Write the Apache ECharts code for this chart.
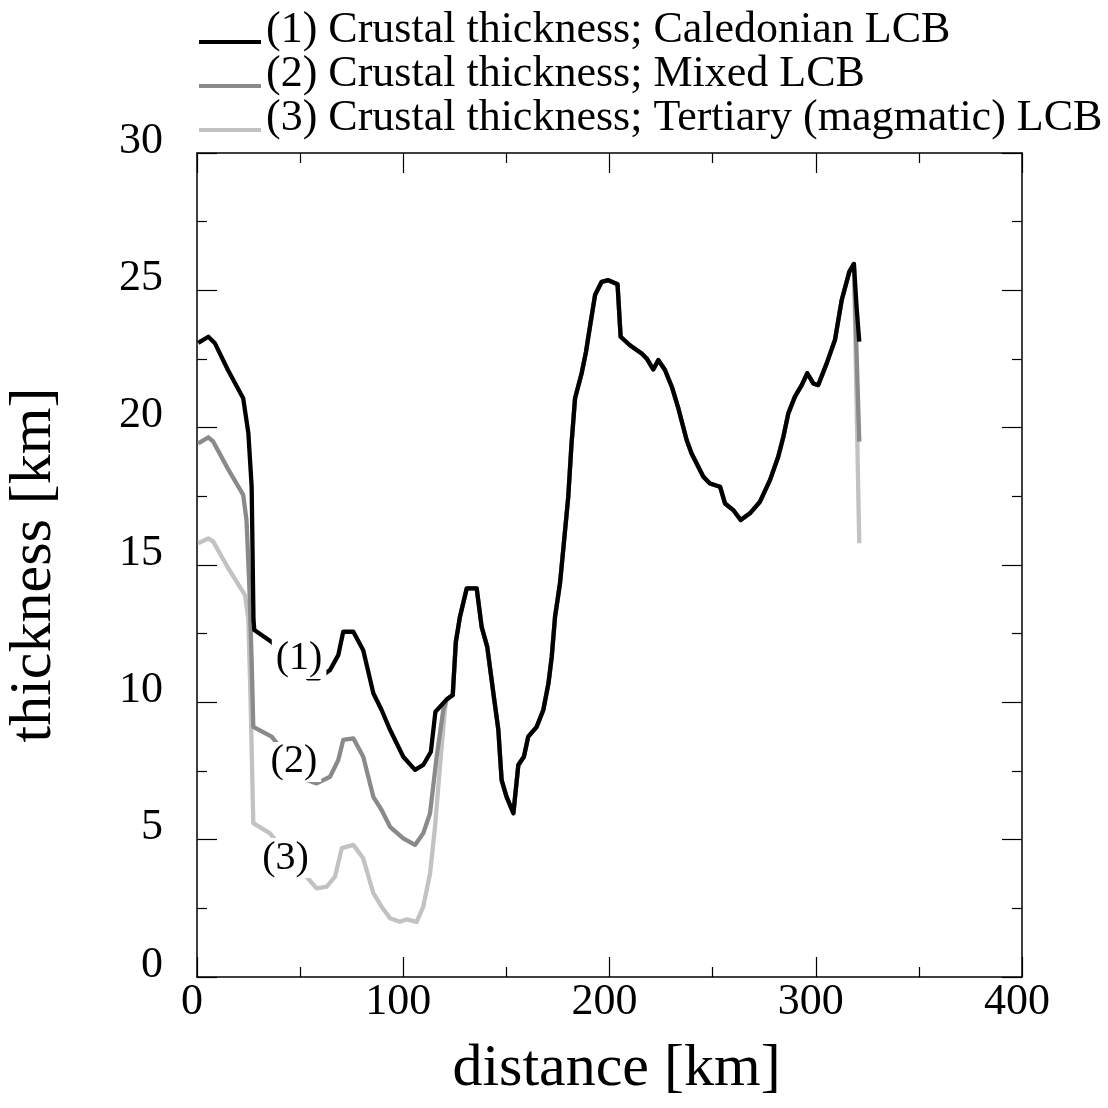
<!DOCTYPE html>
<html><head><meta charset="utf-8">
<script src="https://cdn.jsdelivr.net/npm/echarts@6/dist/echarts.min.js"></script>
<style>html,body{margin:0;padding:0;background:#fff}#c{width:1108px;height:1108px}</style>
</head><body><div id="c"></div>
<script>
// ---- data ----
const seriesNames = [
  '(1) Crustal thickness; Caledonian LCB',
  '(2) Crustal thickness; Mixed LCB',
  '(3) Crustal thickness; Tertiary (magmatic) LCB'
];
const curveLabels = ['(1)', '(2)', '(3)'];
const curveLabelPos = [[49.5, 11.58], [47, 7.83], [42.9, 4.33]];
const xTicks = [0, 100, 200, 300, 400];
const yTicks = [0, 5, 10, 15, 20, 25, 30];

// western part (distance km, thickness km) - differs per model
const line1Head = [[0.6,23.09],[5.5,23.31],[8.7,23.07],[15,22.1],[22.4,21.07],[24.9,19.8],[26.5,17.85],[27.4,13.0],[27.8,12.63],[36.2,12.2],[42,11.7],[48,11.2],[54,10.87],[58.8,10.87],[64.5,11.18],[68.5,11.72],[70.9,12.57],[75.8,12.57],[80.6,11.9],[85.5,10.33],[89.5,9.72],[93.6,9.0],[100,8.02],[105.7,7.54],[109.7,7.72],[113.4,8.2],[115.6,9.66]];
const line2Head = [[0.6,19.43],[5.5,19.65],[7.9,19.49],[15,18.5],[22.4,17.55],[24,16.64],[25.5,14.0],[26.5,11.5],[27.3,9.11],[36.2,8.75],[42,8.2],[48,7.6],[53.2,7.17],[58,7.05],[64.5,7.29],[68.5,7.9],[70.9,8.63],[75.8,8.69],[80.6,8.02],[85.5,6.56],[89.5,6.08],[93.6,5.47],[100,5.05],[105.7,4.81],[109.7,5.23],[113,5.96],[116.2,8.02],[119.4,9.72]];
const line3Head = [[0.6,15.79],[5.5,15.97],[7.9,15.85],[15,14.9],[23.3,13.9],[24.9,13.0],[26,10.0],[27.3,5.6],[35.4,5.23],[42,4.6],[48,4.1],[52.4,3.71],[58,3.23],[62.9,3.29],[66.9,3.65],[70.2,4.69],[75.8,4.81],[80.6,4.32],[85.5,3.05],[89.5,2.56],[93.6,2.14],[98.4,2.01],[101.7,2.1],[106.5,2.01],[109.7,2.56],[113,3.77],[115.4,5.47],[117.8,7.66],[120.2,9.72]];
// common part east of ~121 km
const sharedPath = [[121,10.1],[124,10.27],[125.5,12.2],[127.5,13.12],[130.8,14.15],[135.6,14.15],[138,12.75],[140.7,12.03],[143.7,10.33],[146.1,9.0],[147.7,7.17],[150.1,6.56],[153.4,5.96],[155.8,7.72],[158.5,8.02],[160.6,8.75],[164.7,9.11],[167.9,9.72],[170.4,10.69],[172,11.66],[173.6,13.12],[176,14.33],[177.7,15.66],[180,17.48],[181.6,19.43],[183.3,21.07],[186.5,21.98],[188.6,22.76],[190.5,23.67],[193,24.83],[196.2,25.31],[199.4,25.37],[203.9,25.22],[205.4,23.31],[209.9,23.0],[215.6,22.7],[218,22.52],[221.2,22.12],[223.7,22.46],[226.9,22.1],[230.2,21.49],[233.4,20.7],[237.4,19.55],[239.8,19.06],[245.5,18.21],[248.7,17.97],[253.6,17.85],[256,17.24],[260,17.0],[263.6,16.64],[268.1,16.88],[272.9,17.3],[277.8,18.09],[281.8,18.94],[284.3,19.67],[286.7,20.52],[289.9,21.13],[293.2,21.55],[295.9,21.98],[298.8,21.61],[301.2,21.55],[305.3,22.34],[309.3,23.19],[312.6,24.65],[316.3,25.68],[318.5,25.96]];
// eastern end points
const line1Tail = [[319.8,24.4],[321.1,23.13]];
const line2Tail = [[321.1,19.49]];
const line3Tail = [[321.1,15.79]];

const lineColors = ['#000000', '#8a8a8a', '#c2c2c2'];
const FONT = "'Liberation Serif','Times New Roman',serif";

const heads = [line1Head, line2Head, line3Head];
const tails = [line1Tail, line2Tail, line3Tail];

function makeSeries(i) {
  return {
    name: seriesNames[i],
    type: 'line',
    data: heads[i].concat(sharedPath, tails[i]),
    showSymbol: false,
    symbol: 'none',
    smooth: false,
    lineStyle: { color: lineColors[i], width: 4.3, cap: 'butt', join: 'round' },
    itemStyle: { color: lineColors[i] },
    emphasis: { disabled: true },
    markPoint: {
      symbol: 'rect', symbolSize: 1,
      itemStyle: { color: 'rgba(0,0,0,0)' },
      z: 10,
      label: {
        show: true, position: 'inside', formatter: curveLabels[i],
        fontFamily: FONT, fontSize: 40, color: '#000',
        backgroundColor: '#fff', padding: [0, 4], lineHeight: 40
      },
      data: [{ coord: curveLabelPos[i] }]
    }
  };
}

const bar = 'path://M0,0L62,0L62,0.01L0,0.01Z M0,31L62,31L62,35L0,35Z M0,41.99L62,41.99L62,42L0,42Z';

const axisCommonX = {
  type: 'value', min: xTicks[0], max: xTicks[xTicks.length - 1], interval: 100,
  axisLine: { show: true, onZero: false, lineStyle: { color: '#000', width: 1.5 } },
  axisTick: { show: true, inside: true, length: 20, lineStyle: { color: '#000', width: 1.2 } },
  minorTick: { show: true, splitNumber: 2, length: 10, lineStyle: { color: '#000', width: 1.2 } },
  splitLine: { show: false }, minorSplitLine: { show: false }
};
const axisCommonY = {
  type: 'value', min: yTicks[0], max: yTicks[yTicks.length - 1], interval: 5,
  axisLine: { show: true, onZero: false, lineStyle: { color: '#000', width: 1.5 } },
  axisTick: { show: true, inside: true, length: 20, lineStyle: { color: '#000', width: 1.2 } },
  minorTick: { show: true, splitNumber: 2, length: 10, lineStyle: { color: '#000', width: 1.2 } },
  splitLine: { show: false }, minorSplitLine: { show: false }
};

const chart = echarts.init(document.getElementById('c'), null, { renderer: 'canvas' });
chart.setOption({
  animation: false,
  backgroundColor: '#fff',
  grid: { left: 197, right: 86, top: 153, bottom: 131, outerBoundsMode: 'none', containLabel: false },
  legend: {
    orient: 'vertical', left: 199, top: 8, padding: 0, itemGap: 0,
    itemWidth: 62, itemHeight: 42, icon: bar, selectedMode: false,
    itemStyle: { borderWidth: 0 },
    data: seriesNames,
    textStyle: { fontFamily: FONT, fontSize: 44, color: '#000', lineHeight: 42 }
  },
  xAxis: [
    Object.assign({}, axisCommonX, {
      position: 'bottom',
      name: 'distance [km]', nameLocation: 'middle', nameGap: 62, nameMoveOverlap: false,
      nameTextStyle: { fontFamily: FONT, fontSize: 60, color: '#000', padding: [0, 0, 0, 14] },
      axisLabel: { show: true, margin: 3, fontFamily: FONT, fontSize: 44, color: '#000',
        showMinLabel: true, showMaxLabel: true, padding: [0, 10, 0, 0] }
    }),
    Object.assign({}, axisCommonX, { position: 'top', axisLabel: { show: false } })
  ],
  yAxis: [
    Object.assign({}, axisCommonY, {
      position: 'left',
      name: 'thickness [km]', nameLocation: 'middle', nameGap: 133, nameMoveOverlap: false,
      nameTextStyle: { fontFamily: FONT, fontSize: 60, color: '#000' },
      axisLabel: { show: true, margin: 34, fontFamily: FONT, fontSize: 44, color: '#000',
        showMinLabel: true, showMaxLabel: true, verticalAlign: 'bottom', lineHeight: 24 }
    }),
    Object.assign({}, axisCommonY, { position: 'right', axisLabel: { show: false } })
  ],
  series: [makeSeries(2), makeSeries(1), makeSeries(0)]
});
</script></body></html>
